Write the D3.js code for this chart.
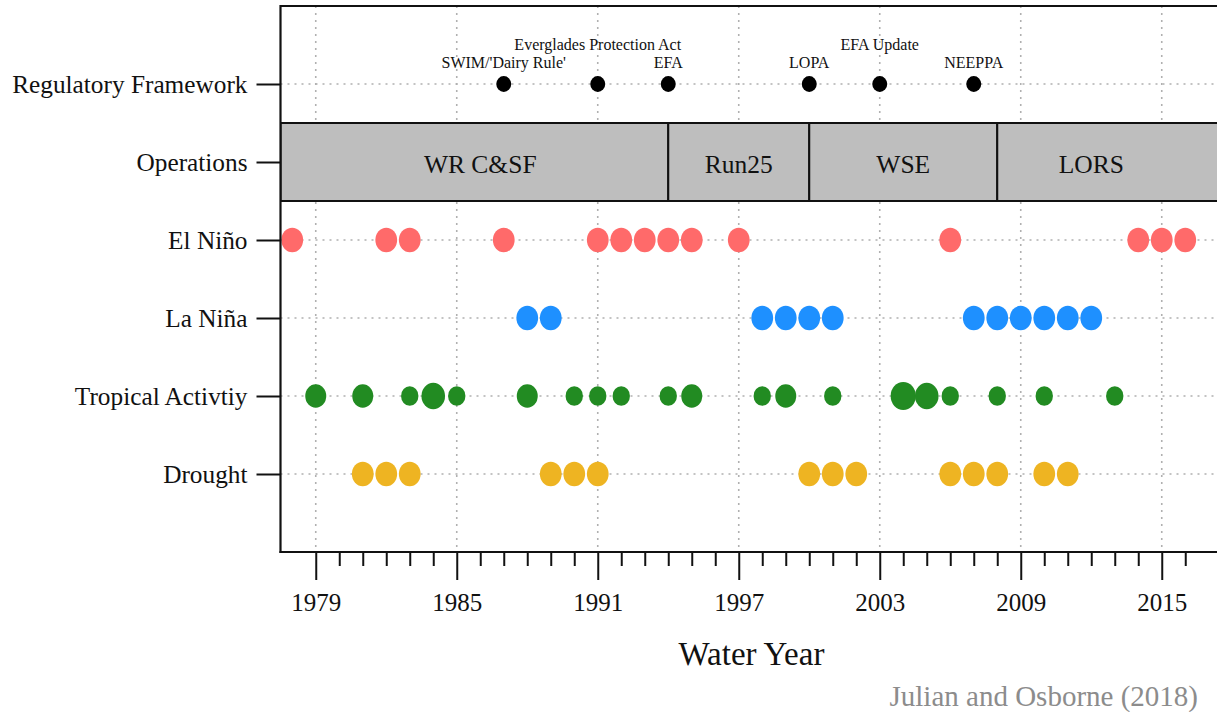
<!DOCTYPE html>
<html>
<head>
<meta charset="utf-8">
<script src="https://cdn.jsdelivr.net/npm/d3@7"></script>
<style>
  html, body { margin: 0; padding: 0; background: #fff; }
  svg { display: block; }
  text { font-family: "Liberation Serif", "Times New Roman", serif; }
</style>
</head>
<body>
<script>
// ---------------- DATA ----------------
const rowNames = ["Drought", "Tropical Activtiy", "La Niña", "El Niño", "Operations", "Regulatory Framework"];

const regYears  = [1987, 1991, 1994, 2000, 2003, 2007];
const regLabels = ["SWIM/'Dairy Rule'", "Everglades Protection Act", "EFA", "LOPA", "EFA Update", "NEEPPA"];
const regLabelLevel = [1, 2, 1, 1, 2, 1];

const opsNames = ["WR C&SF", "Run25", "WSE", "LORS"];
const opsStart = [1978, 1994, 2000, 2008];
const opsEnd   = [1994, 2000, 2008, 2016];

const elNinoYears  = [1978, 1982, 1983, 1987, 1991, 1992, 1993, 1994, 1995, 1997, 2006, 2014, 2015, 2016];
const laNinaYears  = [1988, 1989, 1998, 1999, 2000, 2001, 2007, 2008, 2009, 2010, 2011, 2012];
const tropicalYears = [1979, 1981, 1983, 1984, 1985, 1988, 1990, 1991, 1992, 1994, 1995, 1998, 1999, 2001, 2004, 2005, 2006, 2008, 2010, 2013];
const tropicalLevel = [2, 2, 1, 3, 1, 2, 1, 1, 1, 1, 2, 1, 2, 1, 4, 3, 1, 1, 1, 1];
const droughtYears = [1981, 1982, 1983, 1989, 1990, 1991, 2000, 2001, 2002, 2006, 2007, 2008, 2010, 2011];

const majorTicks = [1979, 1985, 1991, 1997, 2003, 2009, 2015];
const minorTicks = d3.range(1979, 2017);
const xDomain = [1977.5, 2017.5];

// ---------------- LAYOUT ----------------
const W = 1217, H = 712;
const svg = d3.select("body").append("svg").attr("width", W).attr("height", H);

const x = d3.scaleLinear().domain(xDomain).range([280.5, 1220.5]);
const y = d3.scaleLinear().domain([0, 7]).range([552, 6]);
const rowY = name => y(rowNames.indexOf(name) + 1);
const stretch = 1.12;
const tropR = d3.scaleLinear().domain([1, 2, 3, 4]).range([8.7, 10.5, 11.8, 12.6]);

const plot = svg.append("g");
svg.append("clipPath").attr("id", "clip")
  .append("rect").attr("x", x.range()[0]).attr("y", y.range()[1])
  .attr("width", x.range()[1] - x.range()[0]).attr("height", y.range()[0] - y.range()[1]);
const inner = plot.append("g").attr("clip-path", "url(#clip)");

// grid
const gridStyle = g => g.attr("stroke", "#b0b0b0").attr("stroke-width", 1.6).attr("stroke-dasharray", "2,5");
inner.selectAll("line.vg").data(majorTicks).join("line")
  .attr("x1", d => x(d)).attr("x2", d => x(d))
  .attr("y1", y.range()[1]).attr("y2", y.range()[0]).call(gridStyle);
inner.selectAll("line.hg").data(rowNames).join("line")
  .attr("x1", x.range()[0]).attr("x2", x.range()[1])
  .attr("y1", d => rowY(d)).attr("y2", d => rowY(d)).call(gridStyle);

// operations band
const opsY = rowNames.indexOf("Operations") + 1;
const ops = opsNames.map((n, i) => ({ name: n, s: opsStart[i], e: opsEnd[i], i }));
inner.selectAll("rect.ops").data(ops).join("rect")
  .attr("x", d => d.i === 0 ? x.range()[0] : x(d.s))
  .attr("width", d => (d.i === ops.length - 1 ? x.range()[1] + 5 : x(d.e)) - (d.i === 0 ? x.range()[0] : x(d.s)))
  .attr("y", y(opsY + 0.5)).attr("height", y(opsY - 0.5) - y(opsY + 0.5))
  .attr("fill", "#bebebe").attr("stroke", "#111").attr("stroke-width", 2);
inner.selectAll("text.ops").data(ops).join("text")
  .attr("x", d => x((d.s + d.e) / 2)).attr("y", y(opsY)).attr("dy", "0.45em")
  .attr("text-anchor", "middle").attr("font-size", 25.5).attr("fill", "#111")
  .text(d => d.name);

// regulatory framework
const reg = regYears.map((yr, i) => ({ yr, label: regLabels[i], lvl: regLabelLevel[i] }));
inner.selectAll("ellipse.reg").data(reg).join("ellipse")
  .attr("cx", d => x(d.yr)).attr("cy", rowY("Regulatory Framework"))
  .attr("rx", 7.5).attr("ry", 7.5 * 1.06).attr("fill", "#000");
inner.selectAll("text.reg").data(reg).join("text")
  .attr("x", d => x(d.yr)).attr("y", d => d.lvl === 1 ? 67.5 : 49.5)
  .attr("text-anchor", "middle").attr("font-size", 16).attr("fill", "#111")
  .text(d => d.label);

// event dots
function dots(years, row, color, rFn) {
  inner.append("g").selectAll("ellipse").data(years).join("ellipse")
    .attr("cx", d => x(d)).attr("cy", rowY(row))
    .attr("rx", (d, i) => rFn(d, i)).attr("ry", (d, i) => rFn(d, i) * stretch)
    .attr("fill", color);
}
dots(elNinoYears, "El Niño", "#ff6a6a", () => 10.9);
dots(laNinaYears, "La Niña", "#1e90ff", () => 10.9);
dots(tropicalYears, "Tropical Activtiy", "#228b22", (d, i) => tropR(tropicalLevel[i]));
dots(droughtYears, "Drought", "#eeb422", () => 10.9);

// frame
plot.append("line").attr("x1", x.range()[0]).attr("x2", W + 5).attr("y1", y.range()[1]).attr("y2", y.range()[1])
  .attr("stroke", "#111").attr("stroke-width", 2.2);

// x axis
const xAxisMajor = d3.axisBottom(x).tickValues(majorTicks).tickFormat(d3.format("d")).tickSize(28).tickPadding(13);
const gx = svg.append("g").attr("transform", `translate(0,${y.range()[0]})`).call(xAxisMajor);
gx.select(".domain").remove();
gx.selectAll(".tick line").attr("stroke", "#111").attr("stroke-width", 2);
gx.selectAll(".tick text").attr("font-size", 25).attr("fill", "#111")
  .attr("font-family", "'Liberation Serif', 'Times New Roman', serif");
const xAxisMinor = d3.axisBottom(x).tickValues(minorTicks.filter(d => !majorTicks.includes(d))).tickFormat("").tickSize(14);
const gxm = svg.append("g").attr("transform", `translate(0,${y.range()[0]})`).call(xAxisMinor);
gxm.select(".domain").remove();
gxm.selectAll(".tick line").attr("stroke", "#111").attr("stroke-width", 2);
svg.append("line").attr("x1", x.range()[0] - 1).attr("x2", W + 5)
  .attr("y1", y.range()[0]).attr("y2", y.range()[0]).attr("stroke", "#111").attr("stroke-width", 2.2);

// y axis
const yAxis = d3.axisLeft(y).tickValues(d3.range(1, rowNames.length + 1))
  .tickFormat(d => rowNames[d - 1]).tickSize(24).tickPadding(9);
const gy = svg.append("g").attr("transform", `translate(${x.range()[0]},0)`).call(yAxis);
gy.select(".domain").remove();
gy.selectAll(".tick line").attr("stroke", "#111").attr("stroke-width", 2);
gy.selectAll(".tick text").attr("font-size", 25.3).attr("fill", "#111")
  .attr("font-family", "'Liberation Serif', 'Times New Roman', serif");
svg.append("line").attr("x1", x.range()[0]).attr("x2", x.range()[0])
  .attr("y1", y.range()[1] - 1).attr("y2", y.range()[0] + 1).attr("stroke", "#111").attr("stroke-width", 2.2);

// titles
svg.append("text").attr("x", (675 + 828) / 2).attr("y", 665).attr("text-anchor", "middle")
  .attr("font-size", 33).attr("fill", "#111").text("Water Year");
svg.append("text").attr("x", 1198).attr("y", 706).attr("text-anchor", "end")
  .attr("font-size", 29).attr("fill", "#8c8c8c").text("Julian and Osborne (2018)");
</script>
</body>
</html>
